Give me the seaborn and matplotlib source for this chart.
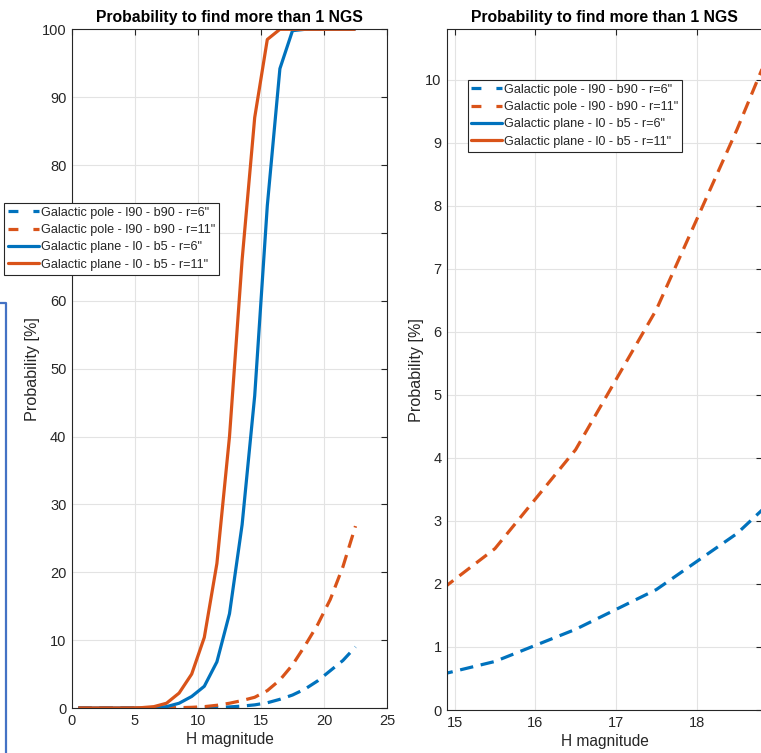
import numpy as np
import pandas as pd
import matplotlib
matplotlib.use("Agg")
import matplotlib.pyplot as plt
import seaborn as sns
from matplotlib.lines import Line2D

# ---------------- data ----------------
h_mag = [0.5, 1.5, 2.5, 3.5, 4.5, 5.5, 6.5, 7.5, 8.5, 9.5, 10.5, 11.5,
         12.5, 13.5, 14.5, 15.5, 16.5, 17.5, 18.5, 19.5, 20.5, 21.5, 22.5]
pole_r6 = [0, 0, 0, 0, 0, 0, 0, 0.01, 0.01, 0.02, 0.04, 0.08,
           0.16, 0.28, 0.46, 0.77, 1.28, 1.91, 2.8, 4.0, 5.5, 7.0, 9.0]
pole_r11 = [0, 0, 0, 0, 0, 0, 0.01, 0.02, 0.05, 0.1, 0.2, 0.4,
            0.7, 1.1, 1.58, 2.56, 4.13, 6.35, 9.21, 12.3, 16.0, 20.8, 26.8]
plane_r6 = [0, 0, 0, 0, 0, 0, 0.05, 0.2, 0.7, 1.7, 3.2, 6.8,
            13.9, 27, 46, 74, 94.2, 99.8, 100, 100, 100, 100, 100]
plane_r11 = [0, 0, 0, 0, 0, 0.05, 0.2, 0.7, 2.2, 5.0, 10.4, 21.3,
             40, 66, 87, 98.5, 100, 100, 100, 100, 100, 100, 100]

series_labels = ['Galactic pole - l90 - b90 - r=6"',
                 'Galactic pole - l90 - b90 - r=11"',
                 'Galactic plane - l0 - b5 - r=6"',
                 'Galactic plane - l0 - b5 - r=11"']
series_values = [pole_r6, pole_r11, plane_r6, plane_r11]
title_text = "Probability to find more than 1 NGS"
xlabel_text = "H magnitude"
ylabel_text = "Probability [%]"
left_xticks = [0, 5, 10, 15, 20, 25]
left_yticks = [0, 10, 20, 30, 40, 50, 60, 70, 80, 90, 100]
right_xticks = [15, 16, 17, 18]
right_yticks = [0, 1, 2, 3, 4, 5, 6, 7, 8, 9, 10]

# ---------------- styling ----------------
sns.set_theme(style="white")
plt.rcParams['font.family'] = ['Liberation Sans', 'DejaVu Sans']
BLUE = "#0072BD"
ORANGE = "#D95319"
TXT = "#262626"
colors = [BLUE, ORANGE, BLUE, ORANGE]
dashed = [True, True, False, False]

W, H = 761, 753
fig = plt.figure(figsize=(W / 100, H / 100), dpi=100)

def px_axes(l, t, r, b):
    return fig.add_axes([l / W, 1 - b / H, (r - l) / W, (b - t) / H])

ax1 = px_axes(72, 29.3, 387, 708)
ax2 = px_axes(447.3, 29.3, 762, 710)

df_rows = []
for lab, vals in zip(series_labels, series_values):
    for x, y in zip(h_mag, vals):
        df_rows.append({"H": x, "P": y, "series": lab})
df = pd.DataFrame(df_rows)

def draw(ax):
    handles = []
    for lab, col, dsh in zip(series_labels, colors, dashed):
        sub = df[df["series"] == lab]
        sns.lineplot(data=sub, x="H", y="P", ax=ax, color=col, linewidth=2.3,
                     estimator=None, sort=False, legend=False)
        ln = ax.lines[-1]
        if dsh:
            ln.set_dashes((4.2, 2.4))
        ln.set_solid_capstyle('butt')
        ln.set_dash_capstyle('butt')
        if dsh:
            hd = Line2D([0], [0], color=col, lw=2.3, linestyle=(0, (3.1, 4.7)))
        else:
            hd = Line2D([0], [0], color=col, lw=2.3, linestyle='-')
        hd.set_dash_capstyle('butt')
        handles.append(hd)
    for s in ax.spines.values():
        s.set_color(TXT)
        s.set_linewidth(0.8)
    ax.grid(True, color="#e3e3e3", linewidth=0.8)
    ax.set_axisbelow(True)
    ax.tick_params(which='both', direction='in', length=4, width=0.8,
                   colors=TXT, labelsize=10.5, top=True, right=True,
                   labelcolor=TXT, pad=4)
    ax.set_title(title_text, fontsize=11.3, fontweight='bold', color='black', pad=5)
    ax.set_xlabel(xlabel_text, fontsize=11.2, color=TXT, labelpad=3)
    ax.set_ylabel(ylabel_text, fontsize=11.6, color=TXT, labelpad=1)
    return handles

h1 = draw(ax1)
ax1.set_xticks(left_xticks)
ax1.set_yticks(left_yticks)
ax1.set_xlim(0, 25)
ax1.set_ylim(0, 100)

h2 = draw(ax2)
ax2.set_xticks(right_xticks)
ax2.set_yticks(right_yticks)
ax2.set_xlim(14.91, 18.81)
ax2.set_ylim(0, 10.8)

leg_kw = dict(fontsize=9.1, frameon=True, fancybox=False, loc='upper left',
              handlelength=2.45, handletextpad=0.15, borderpad=0.3,
              labelspacing=0.42, borderaxespad=0.0)
lg1 = fig.legend(h1, series_labels, bbox_to_anchor=(4 / W, 1 - 203 / H), **leg_kw)
lg2 = fig.legend(h2, series_labels, bbox_to_anchor=(467.7 / W, 1 - 80 / H), **leg_kw)
for lg in (lg1, lg2):
    fr = lg.get_frame()
    fr.set_edgecolor(TXT)
    fr.set_linewidth(0.8)
    fr.set_alpha(1)
    for t in lg.get_texts():
        t.set_color(TXT)

# fragment of blue box at left edge
fig.add_artist(Line2D([0, 6 / W, 6 / W], [1 - 303 / H, 1 - 303 / H, 0],
                      transform=fig.transFigure, color="#4472C4", lw=1.6))

fig.savefig("out.png", dpi=100)
